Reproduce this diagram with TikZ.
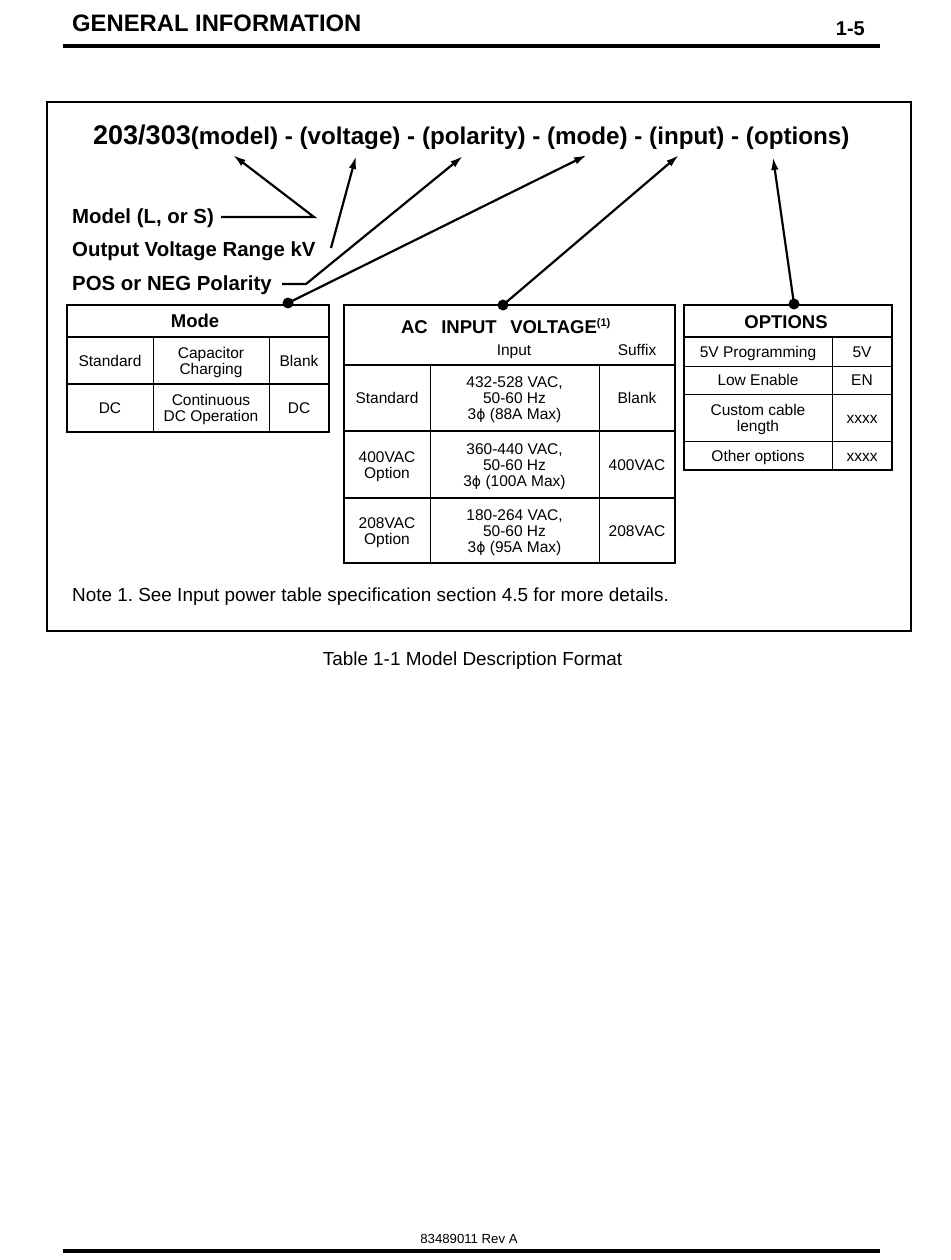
\documentclass[tikz,border=0pt]{standalone}
\usepackage{fontspec}
\setmainfont{Liberation Sans}
\newfontfamily\symfont{DejaVu Sans}
\usetikzlibrary{arrows.meta}
\newcommand{\phig}{{\symfont\fontsize{14}{16}\selectfont ϕ}}
\newcommand{\cellt}[1]{\begin{tabular}[t]{@{}c@{}}#1\end{tabular}}
\frenchspacing
\begin{document}
\begin{tikzpicture}[x=1pt,y=-1pt,
  cell/.style={font=\fontsize{15.5}{16}\selectfont, inner sep=0pt, anchor=base},
  hdr/.style={font=\fontsize{18.5}{20}\selectfont\bfseries, inner sep=0pt, anchor=base},
  lbl/.style={font=\fontsize{20.4}{22}\selectfont\bfseries, inner sep=0pt, anchor=base west},
  body/.style={font=\fontsize{18.9}{20}\selectfont, inner sep=0pt},
  ptr/.style={line width=2.2pt, line join=miter, -{Latex[length=13pt,width=7.5pt]}},
  dotn/.style={circle, fill, inner sep=0pt, minimum size=11pt},
  outer/.style={line width=2.8pt},
  thin/.style={line width=1pt},
  rowl/.style={line width=2.4pt}]
\useasboundingbox (0,0) rectangle (950,1260);
\fill[white] (0,0) rectangle (950,1260);

% page header and footer
\node[font=\fontsize{23.8}{24}\selectfont\bfseries, anchor=base west, inner sep=0pt] (hd) at (72,32) {GENERAL INFORMATION};
\node[font=\fontsize{20}{20}\selectfont\bfseries, anchor=base east, inner sep=0pt] (pg) at (865,36) {1-5};
\draw[line width=3.2pt] (63,46) -- (880,46);
\node[font=\fontsize{13.2}{14}\selectfont, anchor=base, inner sep=0pt] (ft) at (469,1243) {83489011 Rev A};
\draw[line width=3.2pt] (63,1251) -- (880,1251);

% main frame
\draw[outer] (47,102) rectangle (911,631);

% title
\node[anchor=base west, inner sep=0pt, font=\bfseries] (title) at (93,145)
  {{\fontsize{27}{27}\selectfont 203/303}{\fontsize{24.2}{24}\selectfont(model) - (voltage) - (polarity) - (mode) - (input) - (options)}};

% labels
\node[lbl] (lmodel) at (72,223) {Model (L, or S)};
\node[lbl] (lvolt) at (72,256.5) {Output Voltage Range kV};
\node[lbl] (lpol) at (72,290) {POS or NEG Polarity};

% arrow tips and turning points
\coordinate (tmodel) at (233,155);
\coordinate (tvolt) at (356,156);
\coordinate (tpol) at (463,156);
\coordinate (tmode) at (587,155);
\coordinate (tinput) at (679,155);
\coordinate (topt) at (773,157);
\coordinate (ms) at (221,217);
\coordinate (mv) at (314,217);
\coordinate (vs) at (331,248);
\coordinate (ps) at (282,284);
\coordinate (pv) at (306,284);

\node[dotn] (dmode) at (288,303) {};
\node[dotn] (dinput) at (503,305) {};
\node[dotn] (dopt) at (794,304) {};

\draw[ptr] (ms) -- (mv) -- (tmodel);
\draw[ptr] (vs) -- (tvolt);
\draw[ptr] (ps) -- (pv) -- (tpol);
\draw[ptr] (dmode.center) -- (tmode);
\draw[ptr] (dinput.center) -- (tinput);
\draw[ptr] (dopt.center) -- (topt);

% Mode table
\draw[thin] (153,337) -- (153,432);
\draw[thin] (269,337) -- (269,432);
\draw[rowl] (67,337) -- (329,337);
\draw[rowl] (67,384) -- (329,384);
\draw[outer] (67,305) rectangle (329,432);
\node[hdr] (mh) at (195,327) {Mode};
\node[cell] (m11) at (110,366) {Standard};
\node[cell] (m12) at (211,358) {\cellt{Capacitor\\Charging}};
\node[cell] (m13) at (299,366) {Blank};
\node[cell] (m21) at (110,413.5) {DC};
\node[cell] (m22) at (211,405.5) {\cellt{Continuous\\DC Operation}};
\node[cell] (m23) at (299,413.5) {DC};

% AC input voltage table
\draw[thin] (430,365) -- (430,563);
\draw[thin] (599,365) -- (599,563);
\draw[rowl] (344,365) -- (675,365);
\draw[rowl] (344,431) -- (675,431);
\draw[rowl] (344,498) -- (675,498);
\draw[outer] (344,305) rectangle (675,563);
\node[hdr] (ah) at (506,333) {AC\hspace{0.45em} INPUT\hspace{0.45em} VOLTAGE\textsuperscript{\fontsize{11}{11}\selectfont (1)}};
\node[cell] (ain) at (514,355) {Input};
\node[cell] (asf) at (637,355) {Suffix};
\node[cell] (a11) at (387,403.5) {Standard};
\node[cell] (a12) at (514.5,387.5) {\cellt{432-528 VAC,\\50-60 Hz\\3\phig{} (88A Max)}};
\node[cell] (a13) at (637,403.5) {Blank};
\node[cell] (a21) at (387,462) {\cellt{400VAC\\Option}};
\node[cell] (a22) at (514.5,454) {\cellt{360-440 VAC,\\50-60 Hz\\3\phig{} (100A Max)}};
\node[cell] (a23) at (637,470) {400VAC};
\node[cell] (a31) at (387,528) {\cellt{208VAC\\Option}};
\node[cell] (a32) at (514.5,520) {\cellt{180-264 VAC,\\50-60 Hz\\3\phig{} (95A Max)}};
\node[cell] (a33) at (637,536) {208VAC};

% Options table
\draw[thin] (832,337) -- (832,470);
\draw[rowl] (684,337) -- (892,337);
\draw[thin] (684,366) -- (892,366);
\draw[thin] (684,394) -- (892,394);
\draw[thin] (684,441) -- (892,441);
\draw[outer] (684,305) rectangle (892,470);
\node[hdr] (oh) at (786,328) {OPTIONS};
\node[cell] (o11) at (758,357) {5V Programming};
\node[cell] (o12) at (862,357) {5V};
\node[cell] (o21) at (758,385.5) {Low Enable};
\node[cell] (o22) at (862,385.5) {EN};
\node[cell] (o31) at (758,415) {\cellt{Custom cable\\length}};
\node[cell] (o32) at (862,423) {xxxx};
\node[cell] (o41) at (758,461) {Other options};
\node[cell] (o42) at (862,461) {xxxx};

% note and caption
\node[body, anchor=base west] (note) at (72,601) {Note 1. See Input power table specification section 4.5 for more details.};
\node[body, anchor=base] (cap) at (472.5,665) {Table 1-1 Model Description Format};
\end{tikzpicture}
\end{document}
